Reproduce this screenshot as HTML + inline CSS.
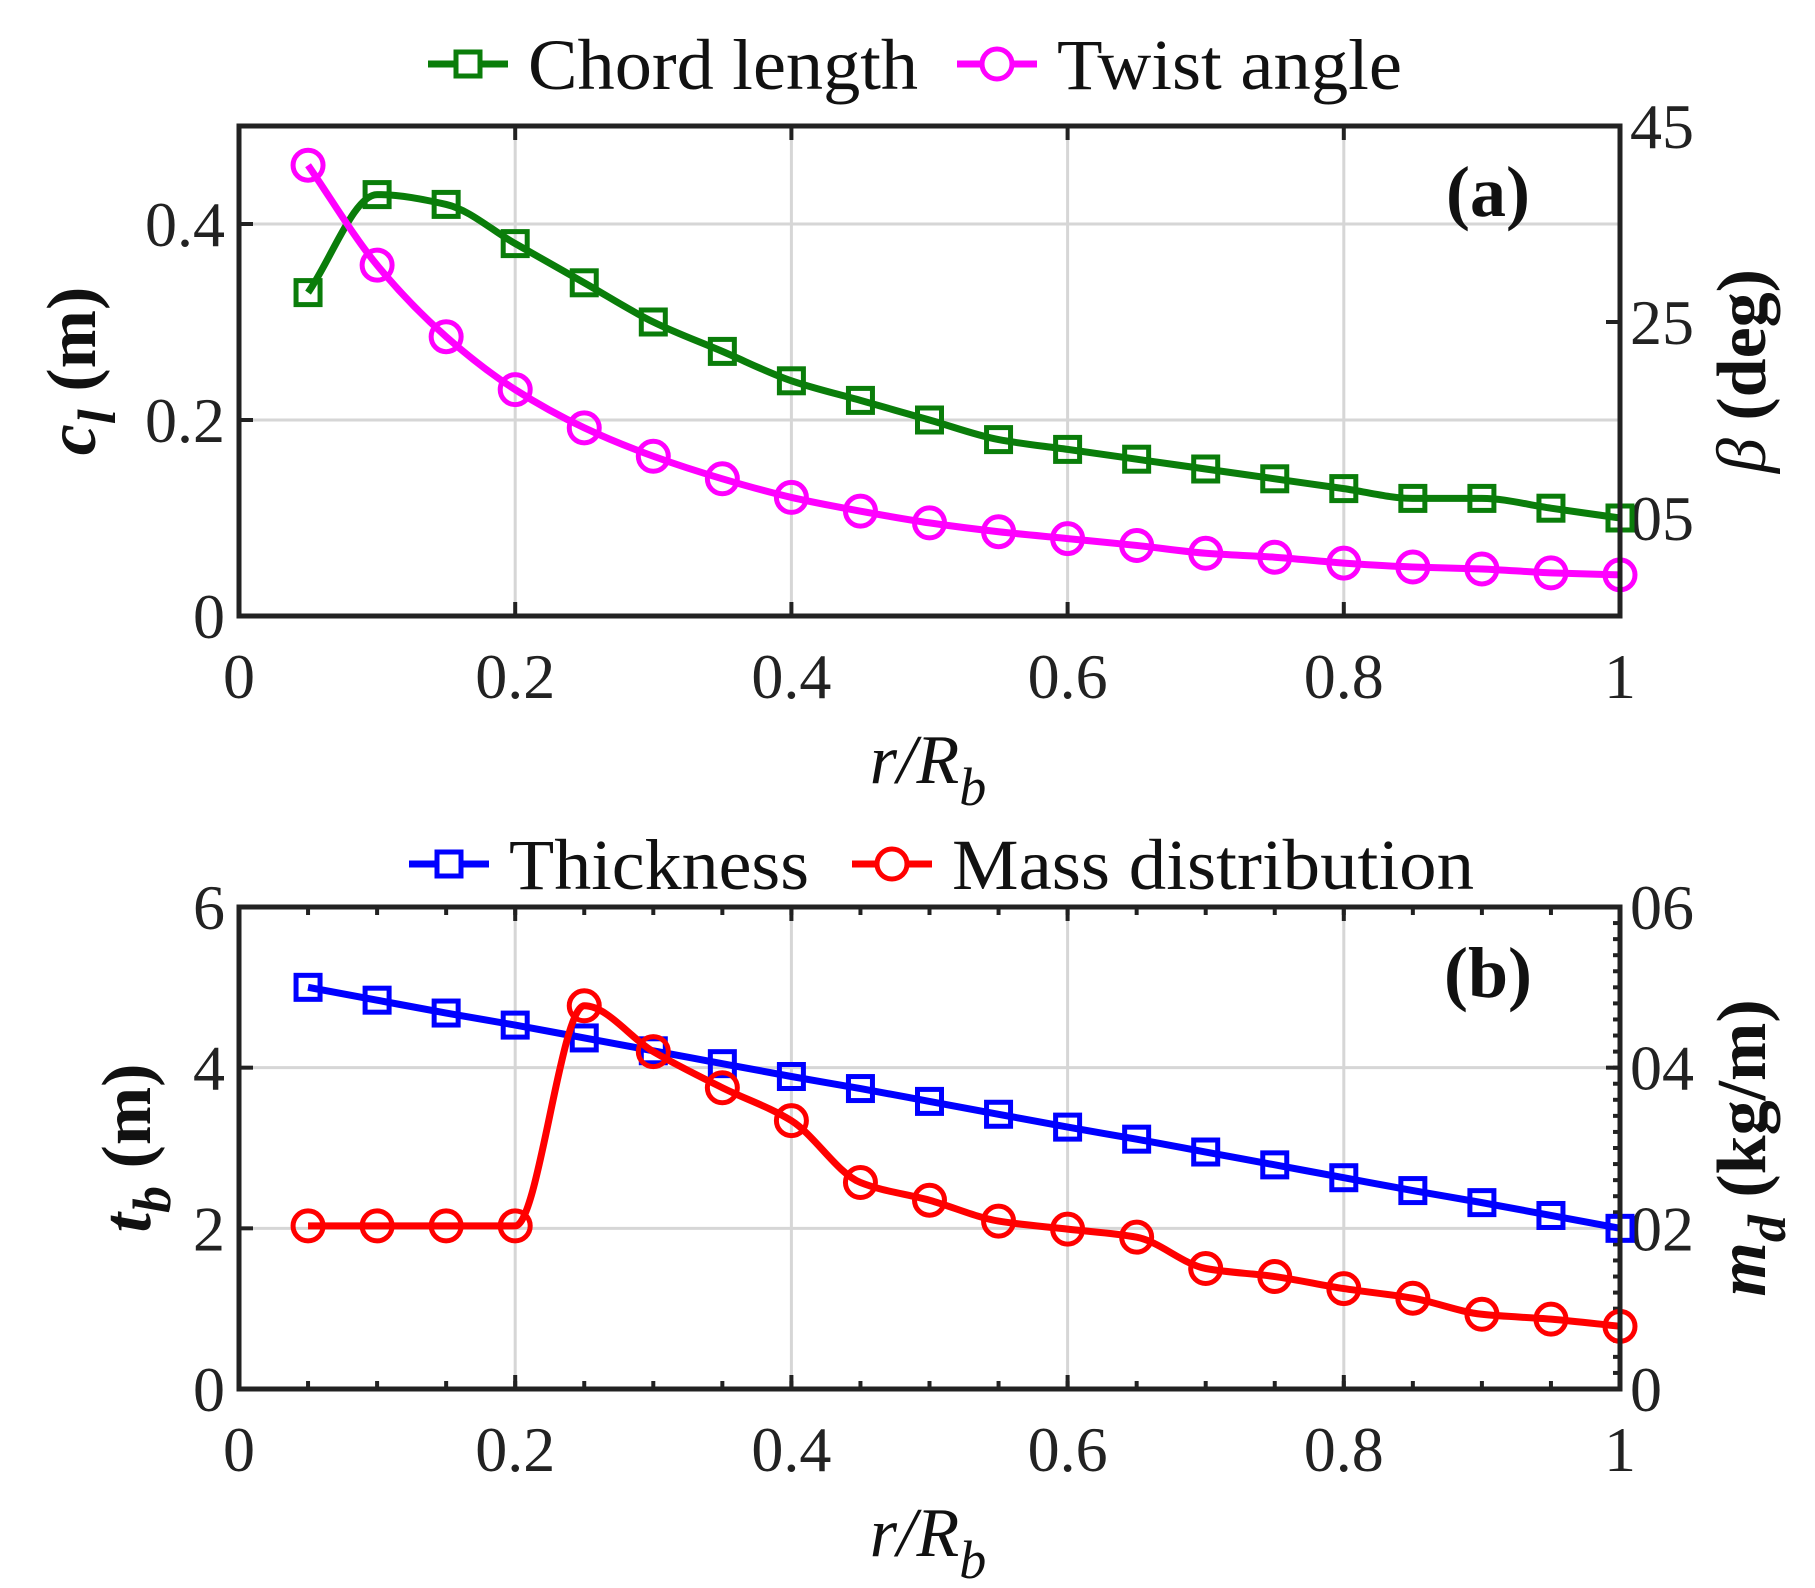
<!DOCTYPE html>
<html><head><meta charset="utf-8"><style>
html,body{margin:0;padding:0;background:#fff;}
svg{display:block;font-family:"Liberation Serif",serif;}
</style></head><body>
<svg id="fig" width="1815" height="1588" viewBox="0 0 1815 1588" xmlns="http://www.w3.org/2000/svg"></svg>
<script>
const rPos = [0.05,0.1,0.15,0.2,0.25,0.3,0.35,0.4,0.45,0.5,0.55,0.6,0.65,0.7,0.75,0.8,0.85,0.9,0.95,1.0];
const chordLength = [0.33,0.43,0.42,0.38,0.34,0.30,0.27,0.24,0.22,0.20,0.18,0.17,0.16,0.15,0.14,0.13,0.12,0.12,0.11,0.10];
const twistAngle = [41,30.8,23.5,18.1,14.2,11.3,9.0,7.1,5.7,4.5,3.6,2.9,2.2,1.4,1.0,0.4,0.0,-0.2,-0.6,-0.8];
const thickness = [5,4.84,4.68,4.53,4.37,4.21,4.05,3.89,3.74,3.58,3.42,3.26,3.11,2.95,2.79,2.63,2.47,2.32,2.16,2.0];
const massDist = [0.0203,0.0203,0.0203,0.0203,0.0477,0.0420,0.0375,0.0334,0.0257,0.0235,0.0209,0.0199,0.0189,0.0150,0.0140,0.0125,0.0113,0.0093,0.0087,0.0078];
const xTicks = [0,0.2,0.4,0.6,0.8,1];
const xTickLabels = ["0","0.2","0.4","0.6","0.8","1"];
const aLeftTicks = [0,0.2,0.4];
const aLeftLabels = ["0","0.2","0.4"];
const aRightTicks = [5,25,45];
const aRightLabels = ["05","25","45"];
const bLeftTicks = [0,2,4,6];
const bLeftLabels = ["0","2","4","6"];
const bRightTicks = [0,0.02,0.04,0.06];
const bRightLabels = ["0","02","04","06"];

const NS="http://www.w3.org/2000/svg";
const svg=document.getElementById('fig');
function mk(tag,attrs,parent){const e=document.createElementNS(NS,tag);for(const k in attrs)e.setAttribute(k,attrs[k]);(parent||svg).appendChild(e);return e;}
function txt(s,attrs,parent){const e=mk('text',attrs,parent);e.textContent=s;return e;}
function pchip(pts){
  const n=pts.length,h=[],d=[],m=new Array(n);
  for(let i=0;i<n-1;i++){h[i]=pts[i+1][0]-pts[i][0];d[i]=(pts[i+1][1]-pts[i][1])/h[i];}
  m[0]=d[0];m[n-1]=d[n-2];
  for(let i=1;i<n-1;i++){
    if(d[i-1]*d[i]<=0)m[i]=0;
    else{const w1=2*h[i]+h[i-1],w2=h[i]+2*h[i-1];m[i]=(w1+w2)/(w1/d[i-1]+w2/d[i]);}
  }
  let s=`M${pts[0][0]},${pts[0][1]}`;
  for(let i=0;i<n-1;i++){
    const p1=pts[i],p2=pts[i+1],hh=h[i]/3;
    s+=` C${p1[0]+hh},${p1[1]+m[i]*hh} ${p2[0]-hh},${p2[1]-m[i+1]*hh} ${p2[0]},${p2[1]}`;
  }
  return s;
}
const L=239,R=1620;
function panel(cfg){
  const g=mk('g',{});
  
  
  const T=cfg.top,B=cfg.bottom;
  const xs=v=>L+(R-L)*v;
  const yl=v=>B-(B-T)*(v-cfg.yl[0])/(cfg.yl[1]-cfg.yl[0]);
  const yr=v=>B-(B-T)*(v-cfg.yr[0])/(cfg.yr[1]-cfg.yr[0]);
  xTicks.forEach(v=>{if(v>0&&v<1){const l=mk('line',{x1:xs(v),x2:xs(v),y1:T,y2:B,stroke:'#d6d6d6','stroke-width':3},g);}});
  cfg.lt.forEach(v=>{if(yl(v)>T+2&&yl(v)<B-2){const l=mk('line',{x1:L,x2:R,y1:yl(v),y2:yl(v),stroke:'#d6d6d6','stroke-width':3},g);}});
  const tk=mk('g',{stroke:'#222','stroke-width':4},g);
  
  xTicks.forEach(v=>{mk('line',{x1:xs(v),x2:xs(v),y1:B,y2:B-14},tk);mk('line',{x1:xs(v),x2:xs(v),y1:T,y2:T+14},tk);});
  if(cfg.minorX){rPos.forEach(v=>{mk('line',{x1:xs(v),x2:xs(v),y1:B,y2:B-8},tk);mk('line',{x1:xs(v),x2:xs(v),y1:T,y2:T+8},tk);});}
  cfg.lt.forEach(v=>mk('line',{x1:L,x2:L+14,y1:yl(v),y2:yl(v)},tk));
  cfg.rt.forEach(v=>mk('line',{x1:R,x2:R-14,y1:yr(v),y2:yr(v)},tk));
  if(cfg.minorR){for(let v=cfg.yr[0];v<=cfg.yr[1]+1e-9;v+=0.002)mk('line',{x1:R,x2:R-7,y1:yr(v),y2:yr(v)},tk);}
  xTicks.forEach((v,i)=>{const t=txt(xTickLabels[i],{x:xs(v),y:B+82,'font-size':64,'text-anchor':'middle',fill:'#222'},g);});
  cfg.lt.forEach((v,i)=>{const t=txt(cfg.ll[i],{x:L-14,y:yl(v)+22,'font-size':64,'text-anchor':'end',fill:'#222'},g);});
  cfg.rt.forEach((v,i)=>{const t=txt(cfg.rl[i],{x:R+10,y:yr(v)+22,'font-size':64,'text-anchor':'start',fill:'#222'},g);});
  cfg.series.forEach(s=>{
    const sg=mk('g',{},g);
    
    
    const sc=s.axis==='l'?yl:yr;
    const pts=rPos.map((x,i)=>[xs(x),sc(s.data[i])]);
    mk('path',{d:pchip(pts),fill:'none',stroke:s.color,'stroke-width':7,'stroke-linejoin':'round'},sg);
    pts.forEach(p=>{
      let m;
      if(s.marker==='sq')m=mk('rect',{x:p[0]-12,y:p[1]-12,width:24,height:24,fill:'none',stroke:s.color,'stroke-width':5},sg);
      else m=mk('circle',{cx:p[0],cy:p[1],r:15,fill:'none',stroke:s.color,'stroke-width':5},sg);
      
      
    });
  });
  const bx=mk('rect',{x:L,y:T,width:R-L,height:B-T,fill:'none',stroke:'#222','stroke-width':5},g);
  
  const pl=txt(cfg.label,{x:1488,y:T+90,'font-size':72,'font-weight':'bold','text-anchor':'middle',fill:'#111'},g);
  
  const xl=txt('',{x:928,y:B+167,'font-size':70,'font-style':'italic','text-anchor':'middle',fill:'#111'},g);
  xl.innerHTML='r/R<tspan font-size="54" dy="22">b</tspan>';
  
  const cy=(T+B)/2;
  const ylab=txt('',{x:0,y:0,'font-size':70,'font-weight':'bold','text-anchor':'middle',fill:'#111',transform:`translate(${cfg.ylx},${cy}) rotate(-90)`},g);
  ylab.innerHTML=cfg.ylHtml;
  
  const yrab=txt('',{x:0,y:0,'font-size':70,'font-weight':'bold','text-anchor':'middle',fill:'#111',transform:`translate(${cfg.yrx},${cy}) rotate(-90)`},g);
  yrab.innerHTML=cfg.yrHtml;
  
  const lg=mk('g',{},g);
  
  cfg.legend.forEach(e=>{
    const eg=mk('g',{},lg);
    
    
    mk('line',{x1:e.x,x2:e.x+80,y1:cfg.ly,y2:cfg.ly,stroke:e.color,'stroke-width':7},eg);
    if(e.marker==='sq')mk('rect',{x:e.x+28,y:cfg.ly-12,width:24,height:24,fill:'#fff',stroke:e.color,'stroke-width':5},eg);
    else mk('circle',{cx:e.x+40,cy:cfg.ly,r:15,fill:'#fff',stroke:e.color,'stroke-width':5},eg);
    txt(e.text,{x:e.x+100,y:cfg.ly+25,'font-size':72,fill:'#111',textLength:e.tl,lengthAdjust:'spacingAndGlyphs'},eg);
  });
}
panel({name:'panel-a',top:126,bottom:616,yl:[0,0.5],yr:[-5,45],lt:aLeftTicks,ll:aLeftLabels,rt:aRightTicks,rl:aRightLabels,label:'(a)',
  ylx:95,yrx:1765,ylHtml:'<tspan font-style="italic">c</tspan><tspan font-style="italic" font-size="54" dy="20">l</tspan><tspan dy="-20"> (m)</tspan>',
  yrHtml:'<tspan font-style="italic" font-weight="normal">β</tspan> (deg)',ly:64,
  legend:[{x:428,color:'#0a7d0a',marker:'sq',text:'Chord length',tl:390},{x:957,color:'#ff00ff',marker:'ci',text:'Twist angle',tl:345}],
  series:[{name:'chord-length-series',data:chordLength,axis:'l',color:'#0a7d0a',marker:'sq'},{name:'twist-angle-series',data:twistAngle,axis:'r',color:'#ff00ff',marker:'ci'}]});
panel({name:'panel-b',top:907,bottom:1389,yl:[0,6],yr:[0,0.06],lt:bLeftTicks,ll:bLeftLabels,rt:bRightTicks,rl:bRightLabels,label:'(b)',minorX:true,minorR:true,
  ylx:150,yrx:1765,ylHtml:'<tspan font-style="italic">t</tspan><tspan font-style="italic" font-size="54" dy="20">b</tspan><tspan dy="-20"> (m)</tspan>',
  yrHtml:'<tspan font-style="italic">m</tspan><tspan font-style="italic" font-size="54" dy="20">d</tspan><tspan dy="-20"> (kg/m)</tspan>',ly:864,
  legend:[{x:409,color:'#0000ff',marker:'sq',text:'Thickness',tl:300},{x:852,color:'#ff0000',marker:'ci',text:'Mass distribution',tl:522}],
  series:[{name:'thickness-series',data:thickness,axis:'l',color:'#0000ff',marker:'sq'},{name:'mass-distribution-series',data:massDist,axis:'r',color:'#ff0000',marker:'ci'}]});
</script>
</body></html>
